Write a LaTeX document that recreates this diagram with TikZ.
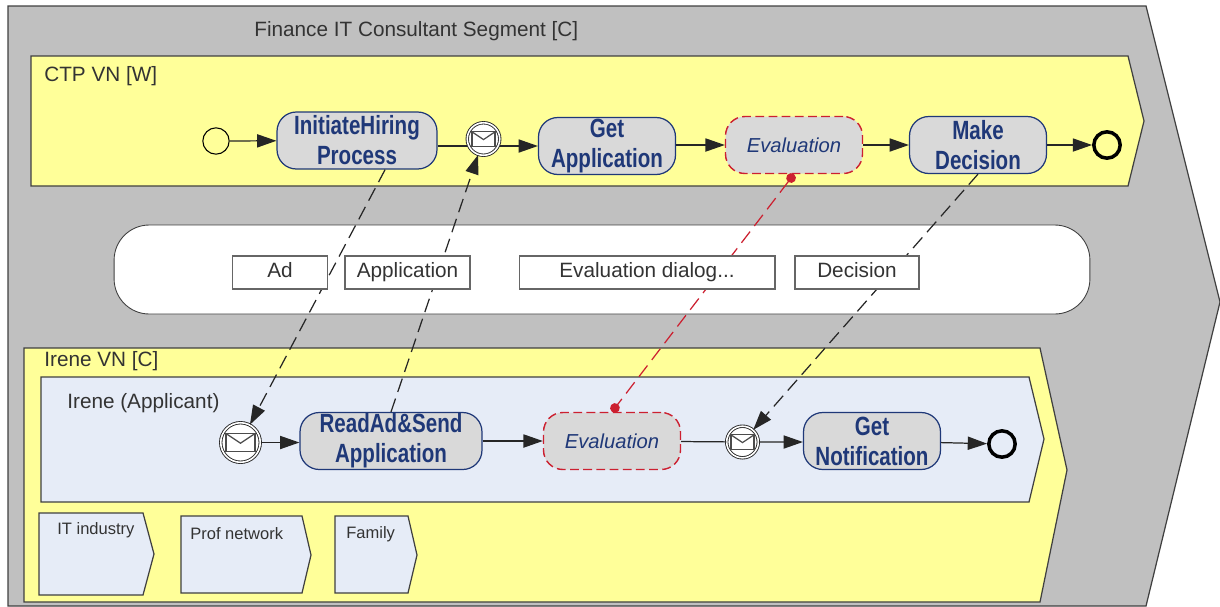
\documentclass[tikz,border=0pt]{standalone}
\usepackage{fontspec}
\setmainfont{Liberation Sans}
\newfontfamily\taskfont[FakeStretch=0.78]{Liberation Sans}
\usetikzlibrary{arrows.meta}
\definecolor{segmentgray}{RGB}{192,192,192}
\definecolor{vnyellow}{RGB}{255,255,153}
\definecolor{orgblue}{RGB}{230,236,247}
\definecolor{taskgray}{RGB}{217,217,217}
\definecolor{taskblue}{RGB}{31,56,120}
\definecolor{evalred}{RGB}{204,32,48}
\definecolor{edgegray}{RGB}{64,64,64}
\tikzset{
	chevron/.style={draw=edgegray, line width=0.7pt},
	title/.style={anchor=west, inner sep=0pt, text=black!80, font=\fontsize{11.8}{14}\selectfont},
	smalltitle/.style={anchor=west, inner sep=0pt, text=black!80, font=\fontsize{9.4}{11}\selectfont},
	task/.style={draw=taskblue, fill=taskgray, rounded corners=11pt, line width=0.7pt, align=center, inner sep=0pt,
		text=taskblue, font=\taskfont\bfseries\fontsize{15}{17}\selectfont},
	evaltask/.style={draw=evalred, dash pattern=on 5pt off 2.5pt, fill=taskgray, rounded corners=11pt, line width=0.8pt, inner sep=0pt,
		text=taskblue, font=\itshape\fontsize{11.5}{14}\selectfont},
	msgbox/.style={draw=black!60, fill=white, line width=0.6pt, inner sep=0pt, text height=8pt, text depth=2.5pt,
		font=\fontsize{11.8}{14}\selectfont, text=black!80},
	startev/.style={circle, draw=black, fill=vnyellow, line width=0.6pt, minimum size=15pt, inner sep=0pt},
	endev/.style={circle, draw=black, fill=none, line width=2pt, minimum size=15pt, inner sep=0pt},
	msgev/.style={circle, draw=black!85, double=white, double distance=0.9pt, fill=white, line width=0.5pt, inner sep=0pt},
	flow/.style={draw=black!85, line width=0.7pt, -{Triangle[length=11pt,width=7.5pt]}},
	msgflow/.style={draw=black!85, line width=0.7pt, dash pattern=on 8pt off 4pt, -{Triangle[length=11pt,width=7.5pt]}},
	redflow/.style={draw=evalred, line width=0.7pt, dash pattern=on 8pt off 4pt, {Circle[length=5.5pt]}-{Circle[length=5.5pt]}},
	pics/envelope/.style={code={
		\draw[black!70, fill=white, line width=0.7pt] (-#1,-0.62*#1) rectangle (#1,0.62*#1);
		\draw[black!70, line width=0.7pt] (-#1,-0.62*#1) -- (0,0.05*#1) -- (#1,-0.62*#1);
	}},
}
\begin{document}
\begin{tikzpicture}[x=0.02cm, y=-0.02cm]
	\useasboundingbox (0,0) rectangle (1220,606);

	% chevrons
	\draw[chevron, fill=segmentgray] (8,6) -- (1146,6) -- (1220,302) -- (1146,606) -- (8,606) -- cycle;
	\draw[chevron, fill=vnyellow] (31,56) -- (1128,56) -- (1144,121) -- (1128,186) -- (31,186) -- cycle;
	\node[draw=edgegray, fill=white, line width=0.5pt, rounded corners=20pt, minimum width=19.52cm, minimum height=1.78cm, inner sep=0pt] (msgarea) at (602,269.5) {};
	\draw[chevron, fill=vnyellow] (24,348) -- (1040,348) -- (1067,470) -- (1040,602) -- (24,602) -- cycle;
	\draw[chevron, fill=orgblue] (41,377) -- (1029,377) -- (1044,439) -- (1029,502) -- (41,502) -- cycle;
	\draw[chevron, fill=orgblue] (39,513) -- (143,513) -- (154,554) -- (143,595) -- (39,595) -- cycle;
	\draw[chevron, fill=orgblue] (181,516) -- (302,516) -- (311,555) -- (302,593) -- (181,593) -- cycle;
	\draw[chevron, fill=orgblue] (335,516) -- (408,516) -- (417,555) -- (408,593) -- (335,593) -- cycle;

	\node[title] (segtitle) at (254,31) {Finance IT Consultant Segment [C]};
	\node[title] (ctptitle) at (44,76) {CTP VN [W]};
	\node[title] (irenetitle) at (44,361) {Irene VN [C]};
	\node[title] (applicant) at (67,403) {Irene (Applicant)};
	\node[smalltitle] (itind) at (57,530) {IT industry};
	\node[smalltitle] (profnet) at (190,534) {Prof network};
	\node[smalltitle] (family) at (346,534) {Family};

	% top process
	\node[startev] (start) at (216,141) {};
	\node[task, minimum width=3.2cm, minimum height=1.14cm] (initiate) at (357,140.5) {InitiateHiring\\Process};
	\node[task, minimum width=2.74cm, minimum height=1.14cm] (getapp) at (607,146) {Get\\Application};
	\node[evaltask, minimum width=2.74cm, minimum height=1.14cm] (evaltop) at (794,145) {Evaluation};
	\node[task, minimum width=2.74cm, minimum height=1.14cm] (makedec) at (978,145) {Make\\Decision};
	\node[endev] (endtop) at (1107,145) {};
	\draw[flow] (initiate.east |- getapp.west) -- (getapp.west);
	\node[msgev, minimum size=18.5pt] (msgtop) at (483.5,139) {};
	\pic at (msgtop) {envelope=11.5};

	% bottom process
	\node[msgev, minimum size=22.5pt] (msgbot) at (240.5,442.5) {};
	\pic at (msgbot) {envelope=14.5};
	\node[task, minimum width=3.64cm, minimum height=1.14cm] (readad) at (391,441) {ReadAd\&Send\\Application};
	\node[evaltask, minimum width=2.74cm, minimum height=1.14cm] (evalbot) at (612,441) {Evaluation};
	\node[msgev, minimum size=18pt] (msgmid) at (742.5,442) {};
	\pic at (msgmid) {envelope=11.5};
	\node[task, minimum width=2.74cm, minimum height=1.14cm] (getnot) at (872,441) {Get\\Notification};
	\node[endev] (endbot) at (1002,444) {};

	% sequence flows
	\draw[flow] (start) -- (initiate);
	\draw[flow] (getapp.east |- evaltop) -- (evaltop);
	\draw[flow] (evaltop) -- (makedec);
	\draw[flow] (makedec) -- (endtop);
	\draw[flow] (msgbot) -- (readad.west |- msgbot);
	\draw[flow] (readad) -- (evalbot);
	\draw[flow] (evalbot) -- (msgmid) -- (getnot.west |- msgmid);
	\draw[flow] (getnot) -- (endbot);

	% message flows
	\draw[msgflow] (initiate.-46) -- (msgbot);
	\draw[msgflow] (readad.90) -- (msgtop);
	\draw[msgflow] (makedec.-90) -- (msgmid);
	\draw[redflow] (evaltop.south) -- (evalbot.north);

	% message boxes
	\node[msgbox, minimum width=1.9cm, minimum height=0.66cm] (ad) at (280,272.5) {Ad};
	\node[msgbox, minimum width=2.5cm, minimum height=0.66cm] (application) at (407.5,272.5) {Application};
	\node[msgbox, minimum width=5.12cm, minimum height=0.66cm] (evaldialog) at (647,272.5) {Evaluation dialog...};
	\node[msgbox, minimum width=2.48cm, minimum height=0.66cm] (decision) at (857,272.5) {Decision};
\end{tikzpicture}
\end{document}
